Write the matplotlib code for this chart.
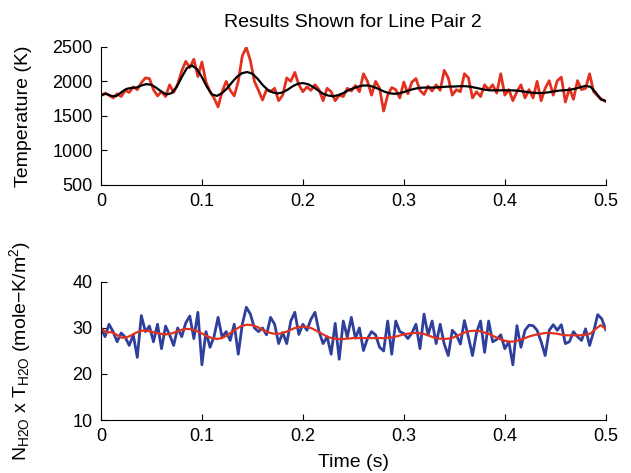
import numpy as np
import matplotlib
matplotlib.use("Agg")
import matplotlib.pyplot as plt

plt.rcParams['font.family'] = ['Liberation Sans', 'DejaVu Sans']
plt.rcParams['mathtext.fontset'] = 'custom'
plt.rcParams['mathtext.rm'] = 'Liberation Sans'
plt.rcParams['mathtext.it'] = 'Liberation Sans'

# measured temperature (K), one sample every 4 ms
temp_meas = [1790, 1830, 1800, 1760, 1820, 1780, 1870, 1840, 1920, 1880,
             1980, 2050, 2040, 1880, 1790, 1850, 1780, 1950, 1840, 1960,
             2150, 2290, 2200, 2320, 2070, 2280, 1990, 1850, 1760, 1630,
             1850, 2000, 1870, 1790, 2000, 2370, 2490, 2300, 2000, 1870,
             1730, 1880, 1850, 1900, 1720, 1800, 2050, 2000, 2130, 1950,
             1850, 1920, 1870, 1950, 1880, 1720, 1900, 1850, 1720, 1800,
             1780, 1900, 1860, 1940, 1850, 2110, 2000, 1800, 2000, 1900,
             1570, 1800, 1910, 1880, 1760, 1990, 1820, 1990, 2040, 1870,
             1810, 1930, 1860, 1950, 1870, 2160, 2050, 1800, 1880, 1850,
             2110, 2050, 1760, 1850, 1780, 1950, 1880, 1950, 1830, 2110,
             1800, 1880, 1720, 1850, 1950, 1760, 1880, 1760, 2000, 1720,
             1900, 2010, 1800, 2010, 2060, 1700, 1900, 1740, 2010, 1880,
             1900, 2110, 1850, 1790, 1740, 1710]

# smoothed temperature (K), one sample every 5 ms
temp_fit = [1800, 1820, 1790, 1785, 1840, 1890, 1905, 1910, 1940, 1960,
            1950, 1905, 1850, 1810, 1830, 1920, 2060, 2190, 2230, 2180,
            2060, 1920, 1810, 1790, 1830, 1900, 1990, 2070, 2120, 2135,
            2110, 2040, 1950, 1880, 1840, 1825, 1840, 1880, 1930, 1965,
            1975, 1960, 1920, 1870, 1820, 1795, 1785, 1800, 1830, 1870,
            1900, 1925, 1940, 1940, 1920, 1890, 1855, 1830, 1820, 1825,
            1845, 1870, 1890, 1905, 1910, 1910, 1910, 1915, 1920, 1925,
            1925, 1930, 1930, 1925, 1910, 1895, 1880, 1870, 1870, 1870,
            1870, 1870, 1868, 1860, 1850, 1840, 1832, 1830, 1835, 1845,
            1858, 1868, 1872, 1880, 1895, 1915, 1935, 1920, 1840, 1740,
            1715]

# measured N_H2O x T_H2O, one sample every 4 ms
nt_meas = [30.0, 28.1, 30.8, 29.2, 27.0, 28.9, 28.0, 26.2, 28.5, 23.6,
           32.7, 29.2, 30.4, 27.0, 30.8, 25.5, 30.4, 28.5, 26.2, 30.0,
           28.1, 31.1, 32.6, 27.7, 33.4, 22.0, 29.2, 25.8, 28.1, 32.3,
           28.0, 29.2, 27.3, 30.8, 24.3, 30.8, 34.5, 33.0, 30.0, 29.2,
           30.0, 28.5, 32.3, 30.8, 26.6, 29.0, 26.6, 31.5, 33.4, 28.6,
           30.8, 29.5, 31.9, 33.4, 29.2, 26.6, 28.1, 24.3, 31.0, 23.2,
           31.5, 28.0, 32.3, 27.8, 30.0, 25.1, 27.7, 29.2, 28.5, 25.8,
           25.0, 31.5, 24.3, 31.5, 29.2, 28.8, 27.7, 28.9, 30.8, 25.5,
           33.0, 28.5, 31.5, 26.6, 30.8, 26.5, 24.0, 29.5, 28.5, 26.5,
           31.6, 28.0, 24.0, 29.0, 31.5, 24.7, 31.5, 27.0, 27.5, 28.5,
           25.5, 27.0, 22.0, 30.5, 25.8, 29.5, 30.6, 30.5, 29.5, 27.0,
           24.0, 29.5, 30.7, 29.5, 30.7, 26.6, 27.0, 29.2, 28.1, 27.3,
           29.8, 26.2, 29.2, 32.9, 32.0, 29.6]

# smoothed N_H2O x T_H2O, one sample every 5 ms
nt_fit = [30.0, 29.0, 29.1, 28.6, 27.9, 27.9, 28.4, 29.0, 29.4, 29.4,
          29.2, 28.9, 28.7, 28.6, 28.8, 29.2, 29.6, 29.8, 29.7, 29.3,
          28.8, 28.2, 27.8, 27.6, 27.8, 28.4, 29.2, 29.9, 30.5, 30.7,
          30.6, 30.2, 29.6, 29.1, 28.8, 28.7, 28.9, 29.3, 29.8, 30.2,
          30.3, 30.2, 29.8, 29.2, 28.6, 28.0, 27.7, 27.6, 27.6, 27.7,
          27.8, 27.8, 27.8, 27.8, 27.8, 27.8, 27.8, 27.9, 28.0, 28.3,
          28.6, 28.8, 28.9, 28.9, 28.7, 28.3, 27.9, 27.7, 27.6, 27.7,
          28.0, 28.5, 29.0, 29.3, 29.4, 29.3, 29.0, 28.6, 28.1, 27.6,
          27.2, 27.0, 27.1, 27.4, 27.8, 28.2, 28.5, 28.7, 28.9, 28.9,
          28.8, 28.6, 28.4, 28.4, 28.4, 28.4, 28.5, 28.8, 29.8, 30.6,
          29.8]

t_meas = np.arange(len(temp_meas)) * 0.004
t_fit = np.arange(len(temp_fit)) * 0.005
t_nt = np.arange(len(nt_meas)) * 0.004
t_nt_fit = np.arange(len(nt_fit)) * 0.005

red = '#e2321f'
blue = '#2e3f9c'
xt = [0, 0.1, 0.2, 0.3, 0.4, 0.5]
xtl = ['0', '0.1', '0.2', '0.3', '0.4', '0.5']

fig = plt.figure(figsize=(6.31, 4.73), dpi=100)
ax1 = fig.add_axes([0.160, 0.609, 0.800, 0.292])
ax2 = fig.add_axes([0.160, 0.112, 0.800, 0.292])

ax1.plot(t_meas, temp_meas, color=red, linewidth=2.0)
ax1.plot(t_fit, temp_fit, color='black', linewidth=1.6)
ax1.set_xlim(0, 0.5)
ax1.set_ylim(500, 2500)
ax1.set_yticks([500, 1000, 1500, 2000, 2500])
ax1.set_xticks(xt)
ax1.set_xticklabels(xtl)
ax1.set_ylabel('Temperature (K)', fontsize=14)
ax1.set_title('Results Shown for Line Pair 2', fontsize=14, pad=14)

ax2.plot(t_nt, nt_meas, color=blue, linewidth=2.0)
ax2.plot(t_nt_fit, nt_fit, color=red, linewidth=1.6)
ax2.set_xlim(0, 0.5)
ax2.set_ylim(10, 40)
ax2.set_yticks([10, 20, 30, 40])
ax2.set_xticks(xt)
ax2.set_xticklabels(xtl)
ax2.set_xlabel('Time (s)', fontsize=14)
ax2.set_ylabel(r'N$_{\mathregular{H2O}}$ x T$_{\mathregular{H2O}}$ (mole$-$K/m$^{\mathregular{2}}$)',
               fontsize=14)

ax1.yaxis.set_label_coords(-0.137, 0.5)
ax2.yaxis.set_label_coords(-0.135, 0.5)
ax2.xaxis.set_label_coords(0.5, -0.245)

for ax in (ax1, ax2):
    ax.spines['top'].set_visible(False)
    ax.spines['right'].set_visible(False)
    ax.tick_params(direction='in', length=4.5, labelsize=13, pad=6)

fig.savefig('out.png', dpi=100)
